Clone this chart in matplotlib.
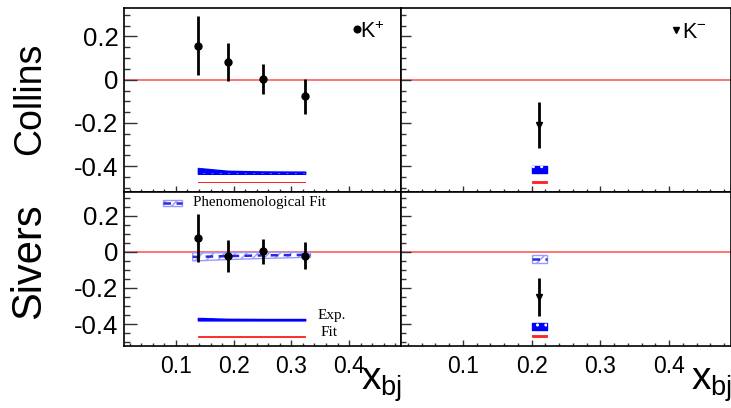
import matplotlib
matplotlib.use("Agg")
import matplotlib.pyplot as plt
from matplotlib.patches import Rectangle
from matplotlib.lines import Line2D
from matplotlib.ticker import MultipleLocator, FixedLocator

plt.rcParams['font.family'] = ['Liberation Sans', 'DejaVu Sans']
plt.rcParams['mathtext.fontset'] = 'custom'
plt.rcParams['mathtext.rm'] = 'Liberation Sans'
plt.rcParams['mathtext.it'] = 'Liberation Sans:italic'
plt.rcParams['hatch.linewidth'] = 1.0

# ---- K+ : four x_bj bins ----
x_kplus = [0.138, 0.190, 0.251, 0.324]
collins_kplus = [0.158, 0.082, 0.002, -0.077]
collins_kplus_err = [0.135, 0.088, 0.069, 0.080]
sivers_kplus = [0.077, -0.022, 0.003, -0.021]
sivers_kplus_err = [0.133, 0.090, 0.069, 0.076]

# ---- K- : single x_bj bin ----
x_kminus = [0.211]
collins_kminus = [-0.211]
collins_kminus_err = [0.106]
sivers_kminus = [-0.250]
sivers_kminus_err = [0.105]

# experimental systematic uncertainty (band heights)
collins_kplus_exp = [0.027, 0.014, 0.011, 0.010]
sivers_kplus_exp = [0.014, 0.009, 0.008, 0.008]
collins_kminus_exp = [0.032]
sivers_kminus_exp = [0.036]

# fit systematic uncertainty (band heights)
collins_kplus_fit = [0.002, 0.002, 0.002, 0.002]
sivers_kplus_fit = [0.002, 0.002, 0.002, 0.002]
collins_kminus_fit = [0.010]
sivers_kminus_fit = [0.010]

# phenomenological Sivers fit (central value and half-width)
sivers_kplus_pheno = [-0.028, -0.024, -0.020, -0.017]
sivers_kplus_pheno_err = [0.022, 0.019, 0.017, 0.014]
sivers_kminus_pheno = [-0.039]
sivers_kminus_pheno_err = [0.024]

# axis ticks
x_major = [0.1, 0.2, 0.3, 0.4]
x_labels = ['0.1', '0.2', '0.3', '0.4']
y_major = [-0.4, -0.2, 0.0, 0.2]
y_labels = ['-0.4', '-0.2', '0', '0.2']

W, H = 731, 408
fig = plt.figure(figsize=(W / 100, H / 100), dpi=100)


def px_axes(x0, y0, x1, y1):
    return fig.add_axes([x0 / W, 1 - y1 / H, (x1 - x0) / W, (y1 - y0) / H])


ax_tl = px_axes(124, 8.3, 401, 192.2)
ax_tr = px_axes(401, 8.3, 731, 192.2)
ax_bl = px_axes(124, 192.2, 401, 345.7)
ax_br = px_axes(401, 192.2, 731, 345.7)

BLUE = '#0000ff'
RED = '#ff2020'
ZERO = '#ff6a6a'
PHENO_EDGE = '#9a9aff'
PHENO_LINE = '#2a2ad8'


def style(ax, left_labels, bottom_labels, ytick_len):
    ax.set_xlim(0.01, 0.49)
    ax.set_ylim(-0.52, 0.33)
    for s in ax.spines.values():
        s.set_linewidth(1.2)
    ax.xaxis.set_major_locator(FixedLocator(x_major))
    ax.xaxis.set_minor_locator(MultipleLocator(0.02))
    ax.yaxis.set_major_locator(FixedLocator(y_major))
    ax.yaxis.set_minor_locator(MultipleLocator(0.05))
    ax.set_xticklabels(x_labels if bottom_labels else [])
    ax.set_yticklabels(y_labels if left_labels else [])
    ax.tick_params(axis='both', which='both', direction='in',
                   top=False, right=False, width=1.0, color='#333333')
    ax.tick_params(axis='x', which='major', length=4.2, pad=7, labelsize=16.5)
    ax.tick_params(axis='x', which='minor', length=2.0)
    ax.tick_params(axis='y', which='major', length=ytick_len, pad=4, labelsize=18.5)
    ax.tick_params(axis='y', which='minor', length=ytick_len / 2)
    ax.axhline(0, color=ZERO, lw=1.3, zorder=1)


style(ax_tl, True, False, 9)
style(ax_tr, False, False, 7.5)
style(ax_bl, True, True, 9)
style(ax_br, False, True, 7.5)

BIN_HALF = 0.011
PHENO_HALF = 0.009


def span(x, half):
    """x coordinates of a band; a single bin becomes a box."""
    if len(x) == 1:
        return [x[0] - half, x[0] + half]
    return list(x)


def stretch(x, v):
    if len(x) == 1:
        return [v[0], v[0]]
    return list(v)


def sys_band(ax, x, heights, base, color, dotted, lw=1.0):
    xs = span(x, BIN_HALF)
    hs = stretch(x, heights)
    top = [base + h for h in hs]
    ax.fill_between(xs, base, top, color=color, lw=lw, zorder=3)
    if dotted:
        ax.fill_between(xs, base, top, facecolor='none', edgecolor='white',
                        hatch='..', lw=0, zorder=3.5)


def pheno_band(ax, x, vals, errs):
    if len(x) == 1:
        xs = [x[0] - BIN_HALF, x[0] + BIN_HALF]
        vs = [vals[0], vals[0]]
        es = [errs[0], errs[0]]
    else:
        xs = [x[0] - PHENO_HALF] + list(x) + [x[-1] + PHENO_HALF]
        vs = [vals[0]] + list(vals) + [vals[-1]]
        es = [errs[0]] + list(errs) + [errs[-1]]
    lo = [v - e for v, e in zip(vs, es)]
    hi = [v + e for v, e in zip(vs, es)]
    ax.fill_between(xs, lo, hi, facecolor='none', edgecolor=PHENO_EDGE,
                    hatch='///', lw=1.0, zorder=2)
    ax.plot(xs, vs, color=PHENO_LINE, lw=1.8, ls=(0, (3, 2.2)), zorder=2.5)


def points(ax, x, y, err, marker, ms):
    ax.errorbar(x, y, yerr=err, fmt=marker, color='black', ms=ms,
                elinewidth=2.0, capsize=0, zorder=5)


# Collins, K+
sys_band(ax_tl, x_kplus, collins_kplus_exp, -0.435, BLUE, True)
sys_band(ax_tl, x_kplus, collins_kplus_fit, -0.475, RED, False, lw=0.6)
points(ax_tl, x_kplus, collins_kplus, collins_kplus_err, 'o', 5)

# Collins, K-
sys_band(ax_tr, x_kminus, collins_kminus_exp, -0.433, BLUE, True)
sys_band(ax_tr, x_kminus, collins_kminus_fit, -0.476, RED, False, lw=0.6)
points(ax_tr, x_kminus, collins_kminus, collins_kminus_err, 'v', 5)

# Sivers, K+
pheno_band(ax_bl, x_kplus, sivers_kplus_pheno, sivers_kplus_pheno_err)
sys_band(ax_bl, x_kplus, sivers_kplus_exp, -0.380, BLUE, True)
sys_band(ax_bl, x_kplus, sivers_kplus_fit, -0.471, RED, False, lw=0.6)
points(ax_bl, x_kplus, sivers_kplus, sivers_kplus_err, 'o', 5)

# Sivers, K-
pheno_band(ax_br, x_kminus, sivers_kminus_pheno, sivers_kminus_pheno_err)
sys_band(ax_br, x_kminus, sivers_kminus_exp, -0.431, BLUE, True)
sys_band(ax_br, x_kminus, sivers_kminus_fit, -0.472, RED, False, lw=0.6)
points(ax_br, x_kminus, sivers_kminus, sivers_kminus_err, 'v', 5)

# hadron labels
ax_tl.plot([0.840], [0.890], 'o', color='black', ms=4.8, transform=ax_tl.transAxes)
ax_tl.text(0.852, 0.838, r'K$^{\mathregular{+}}$', transform=ax_tl.transAxes,
           fontsize=15.5, ha='left', va='baseline')
ax_tr.plot([0.832], [0.880], 'v', color='black', ms=4.5, transform=ax_tr.transAxes)
ax_tr.text(0.852, 0.838, r'K$^{\mathregular{-}}$', transform=ax_tr.transAxes,
           fontsize=15.5, ha='left', va='baseline')

# phenomenological fit legend
leg_box = Rectangle((0.141, 0.911), 0.068, 0.039, transform=ax_bl.transAxes,
                    facecolor='none', edgecolor=PHENO_EDGE, hatch='///', lw=1.0)
ax_bl.add_patch(leg_box)
ax_bl.add_line(Line2D([0.141, 0.209], [0.930, 0.930], transform=ax_bl.transAxes,
                      color=PHENO_LINE, lw=1.8, ls=(0, (3, 2.2))))
serif = ['Liberation Serif', 'DejaVu Serif']
ax_bl.text(0.248, 0.930, 'Phenomenological Fit', transform=ax_bl.transAxes,
           fontsize=10.8, family=serif, ha='left', va='center')
ax_bl.text(0.70, 0.20, 'Exp.', transform=ax_bl.transAxes, fontsize=11,
           family=serif, ha='left', va='center')
ax_bl.text(0.711, 0.083, 'Fit', transform=ax_bl.transAxes, fontsize=11,
           family=serif, ha='left', va='center')

# axis titles
fig.text(30 / W, 1 - 99 / H, 'Collins', rotation=90, fontsize=27,
         ha='center', va='center')
fig.text(29.5 / W, 1 - 261 / H, 'Sivers', rotation=90, fontsize=30,
         ha='center', va='center')
fig.text(361 / W, 1 - 390 / H, r'x$_{\mathregular{bj}}$', fontsize=28,
         ha='left', va='baseline')
fig.text(691 / W, 1 - 390 / H, r'x$_{\mathregular{bj}}$', fontsize=28,
         ha='left', va='baseline')

fig.savefig('out.png', dpi=100)
